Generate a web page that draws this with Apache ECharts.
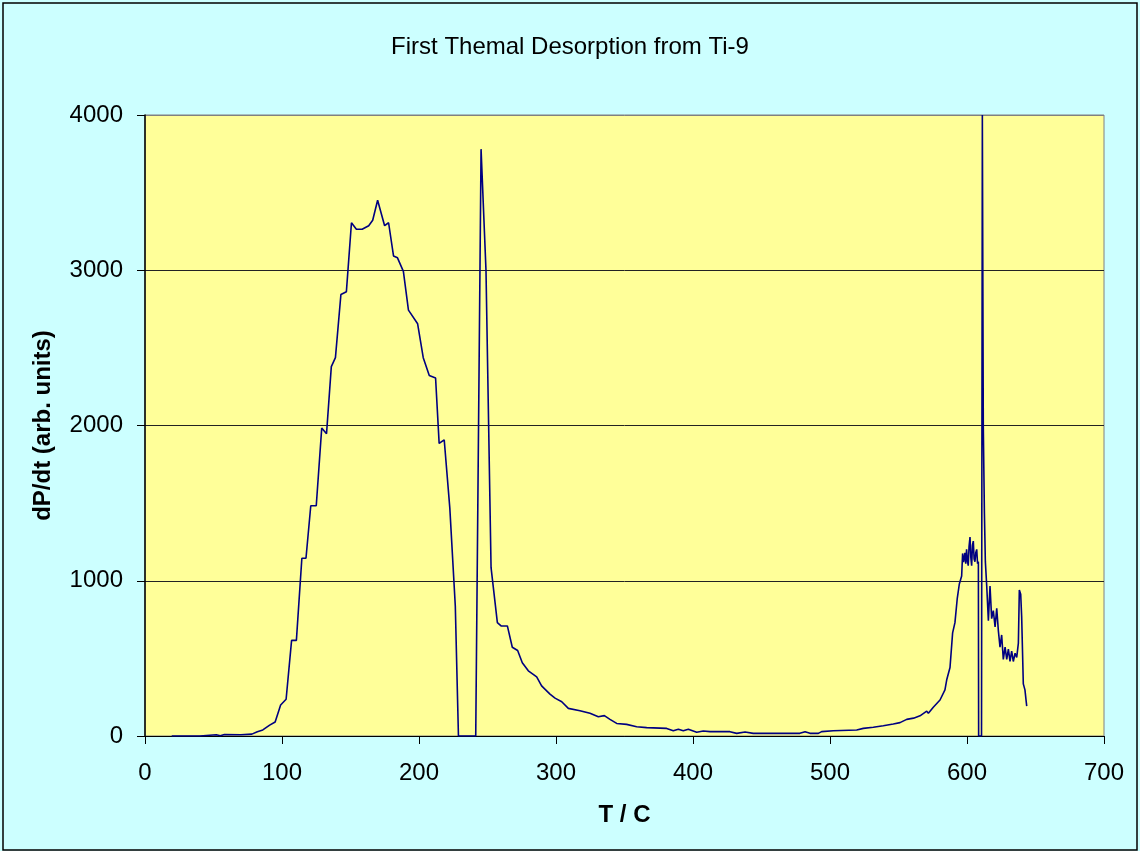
<!DOCTYPE html>
<html style="height: 100%">
  <head>
    <meta charset="UTF-8">
  </head>
  <body style="height: 100%; margin: 0">
    <div id="container" style="width: 1140px; height: 851px"></div>
    <script type="text/javascript" src="https://cdn.jsdelivr.net/npm/echarts@6/dist/echarts.min.js"></script>
    <script>
    // temperature (C) and desorption rate
    var tempC = [
      19.5, 40, 52, 55, 58, 70, 78, 82, 86, 91, 95, 99, 103, 107, 110.5, 114.5, 117.5, 121, 125, 129,
      132.5, 136, 139, 143, 147, 150.7, 154.3, 158.5, 163.3, 166.2, 169.8, 174.9, 177.8, 181.4, 184.3,
      188.6, 192.3, 199, 203.1, 207.5, 212.1, 214.7, 218.4, 222.5, 226.5, 228.8, 241.4, 245.3, 248.9,
      252.6, 257.2, 259.9, 264.5, 268.1, 272, 275.4, 279.8, 285.9, 289.5, 295.6, 299.3, 304.2, 309,
      317.5, 324.8, 330.9, 335.3, 339.4, 344.3, 351.6, 358.9, 366.2, 380.8, 385.6, 389.3, 392.9, 396.6,
      402.7, 407.5, 412.4, 427, 431.9, 438, 444, 478, 481.8, 485.4, 491.5, 493.9, 502.4, 519.5, 524.3,
      531.6, 538.9, 546.2, 551.1, 556, 561, 565.7, 570.6, 571.8, 575.4, 580.3, 583.9, 585.2, 587.6,
      589.5, 591.2, 592.9, 594.4, 596.1, 596.8, 597.5, 598.5, 599.1, 599.7, 600.3, 600.9, 601.5, 602.2,
      602.8, 603.4, 604, 604.6, 605.2, 605.8, 606.4, 607.1, 607.7,
      608.3, 608.5, 610.6, 611.2, 611.9, 612.7, 613.4, 614.4, 615.6, 616.8, 618, 619.2, 620.5, 621.7,
      622.9, 624.1, 625.3, 626.5, 627.8, 629, 630.2, 631.4, 632.6, 633.8, 635.1, 636.3, 637.5, 638.2,
      639.2, 639.9, 641.1, 642.3, 643.1, 643.6
    ];
    var dPdt = [
      0, 0, 8, 2, 10, 8, 12, 28, 39, 70, 90, 200, 237, 616, 616, 1145, 1145, 1483, 1483, 1984,
      1947, 2379, 2437, 2844, 2862, 3306, 3264, 3264, 3287, 3322, 3451, 3287, 3306, 3092, 3080,
      2993, 2743, 2655, 2437, 2322, 2306, 1885, 1908, 1468, 837, 0, 0, 3780, 3000,
      1084, 730, 709, 709, 572, 551, 472, 420, 381, 323, 270, 244, 221, 178,
      163, 146, 124, 131, 107, 81, 75, 60, 54, 49, 34, 43, 34, 43,
      24, 32, 28, 28, 17, 26, 17, 17, 28, 17, 17, 28, 34, 39, 49,
      56, 66, 77, 86, 107, 115, 130, 160, 146, 185, 232, 297, 362, 441,
      664, 730, 887, 979, 1031, 1176, 1120, 1180, 1110, 1202, 1130, 1097, 1220, 1281,
      1150, 1097, 1230, 1255, 1140, 1123, 1180, 1202, 1110,
      1123, 0, 0, 4000, 1990, 1438, 1123, 966, 743, 966, 756, 808, 703, 822,
      677, 572, 651, 493, 572, 493, 559, 480, 546, 480, 533, 506, 598, 940,
      913, 769, 336, 297, 231, 192
    ];
    var xTicks = [0, 700, 100];   // min, max, step
    var yTicks = [0, 4000, 1000];

    var font = '"Liberation Sans", Arial, sans-serif';
    var myChart = echarts.init(document.getElementById('container'), null, { renderer: 'canvas' });

    var option = {
      animation: false,
      backgroundColor: '#CCFFFF',
      graphic: [{
        type: 'rect',
        shape: { x: 3, y: 3, width: 1134, height: 847 },
        style: { fill: 'none', stroke: '#000', lineWidth: 1.5 },
        silent: true
      }],
      title: {
        text: 'First Themal Desorption from Ti-9',
        left: 'center',
        top: 30,
        textStyle: { fontFamily: font, fontSize: 24, fontWeight: 'normal', color: '#000' }
      },
      grid: {
        left: 145, right: 36, top: 115, bottom: 115,
        show: true,
        backgroundColor: '#FFFF99',
        borderColor: '#808080',
        borderWidth: 1
      },
      xAxis: {
        type: 'value',
        min: xTicks[0], max: xTicks[1], interval: xTicks[2],
        name: 'T / C',
        nameLocation: 'middle',
        nameGap: 67,
        nameTextStyle: { fontFamily: font, fontSize: 24, fontWeight: 'bold', color: '#000' },
        axisLine: { lineStyle: { color: '#000', width: 1 } },
        axisTick: { show: true, inside: false, length: 8, lineStyle: { color: '#000' } },
        axisLabel: { fontFamily: font, fontSize: 24, color: '#000', margin: 25 },
        splitLine: { show: false }
      },
      yAxis: {
        type: 'value',
        min: yTicks[0], max: yTicks[1], interval: yTicks[2],
        name: 'dP/dt (arb. units)',
        nameLocation: 'middle',
        nameGap: 90,
        nameTextStyle: { fontFamily: font, fontSize: 24, fontWeight: 'bold', color: '#000' },
        axisLine: { show: true, lineStyle: { color: '#000', width: 1.5 } },
        axisTick: { show: true, inside: false, length: 8, lineStyle: { color: '#000' } },
        axisLabel: {
          fontFamily: font, fontSize: 24, color: '#000', margin: 22,
          formatter: function (v) { return String(v); }
        },
        splitLine: { show: true, lineStyle: { color: ['#000', '#222', '#222', '#222', '#808080'], width: 1 } }
      },
      series: [{
        type: 'line',
        showSymbol: false,
        clip: true,
        lineStyle: { color: '#000080', width: 1.6 },
        data: tempC.map(function (t, i) { return [t, dPdt[i]]; })
      }]
    };

    myChart.setOption(option);
    window.addEventListener('resize', myChart.resize);
    </script>
  </body>
</html>
